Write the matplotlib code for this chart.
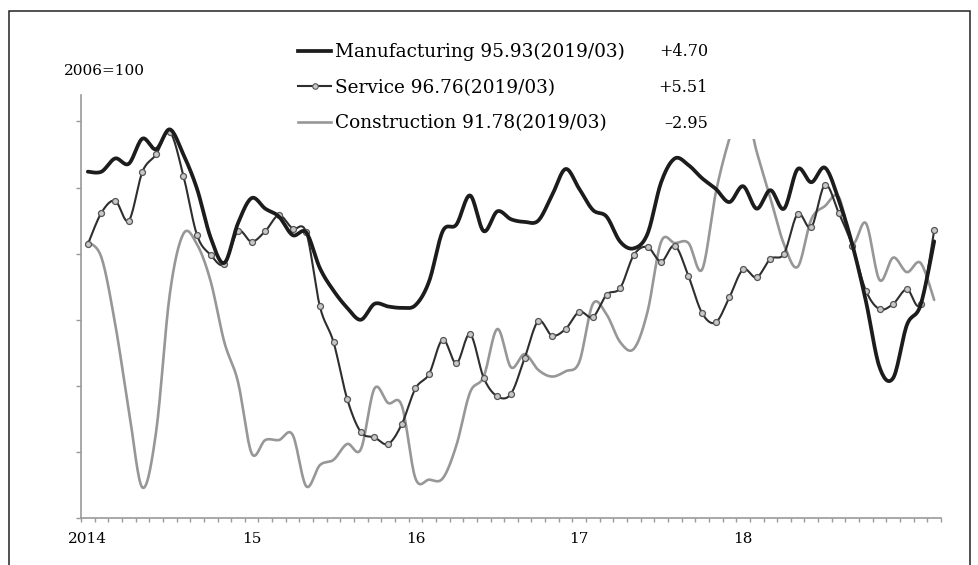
import numpy as np
import matplotlib.pyplot as plt
from matplotlib.lines import Line2D
from matplotlib.patches import Rectangle

# monthly, 2014/01 .. 2019/03 (2006=100)
year_labels = ["2014", "15", "16", "17", "18"]
year_start_idx = [0, 12, 24, 36, 48]

manufacturing = [101.2, 101.2, 102.2, 101.8, 103.7, 102.9, 104.4, 102.5, 99.9, 96.2,
                 94.3, 97.3, 99.2, 98.4, 97.8, 96.4, 96.6, 93.9, 92.2, 90.9,
                 90.0, 91.2, 91.0, 90.9, 91.1, 92.9, 96.7, 97.2, 99.4, 96.7,
                 98.2, 97.6, 97.4, 97.5, 99.4, 101.4, 99.9, 98.3, 97.8, 95.9,
                 95.4, 96.5, 100.4, 102.2, 101.7, 100.7, 99.9, 98.9, 100.1, 98.4,
                 99.8, 98.4, 101.4, 100.4, 101.5, 99.1, 95.7, 91.4, 86.4, 85.6,
                 89.6, 91.1, 95.93]
service = [95.7, 98.1, 99.0, 97.5, 101.2, 102.5, 104.2, 100.9, 96.4, 94.9,
           94.2, 96.7, 95.9, 96.7, 97.9, 96.9, 96.6, 91.0, 88.3, 84.0,
           81.5, 81.1, 80.6, 82.1, 84.8, 85.9, 88.5, 86.7, 88.9, 85.6,
           84.2, 84.4, 87.1, 89.9, 88.8, 89.3, 90.6, 90.2, 91.9, 92.4,
           94.9, 95.5, 94.4, 95.6, 93.3, 90.5, 89.8, 91.7, 93.8, 93.2,
           94.6, 95.0, 98.0, 97.0, 100.2, 98.1, 95.6, 92.2, 90.8, 91.2,
           92.3, 91.2, 96.76]
construction = [95.9, 94.7, 89.7, 83.2, 77.3, 81.5, 91.9, 96.5, 95.7, 92.9,
                88.3, 85.3, 79.9, 80.9, 80.9, 81.3, 77.4, 79.0, 79.4, 80.6,
                80.2, 84.8, 83.7, 83.5, 78.0, 77.9, 78.0, 80.5, 84.5, 85.7,
                89.3, 86.4, 87.4, 86.2, 85.7, 86.1, 86.8, 91.2, 90.4, 88.3,
                87.8, 90.6, 95.9, 95.8, 95.8, 93.8, 99.6, 103.7, 106.5, 102.7,
                99.2, 95.7, 94.0, 97.6, 98.6, 99.3, 95.8, 97.3, 93.0, 94.7,
                93.6, 94.3, 91.5]

legend_labels = ["Manufacturing 95.93(2019/03)",
                 "Service 96.76(2019/03)",
                 "Construction 91.78(2019/03)"]
legend_changes = ["+4.70", "+5.51", "\u20132.95"]


def smooth(x, y, n=16):
    # excel-like smoothed line: bezier with catmull-rom control points
    x = np.asarray(x, float)
    y = np.asarray(y, float)
    t = np.linspace(0, 1, n, endpoint=False)[:, None]
    pts = np.column_stack([x, y])
    out = []
    for i in range(len(pts) - 1):
        p0 = pts[i - 1] if i > 0 else pts[i]
        p1, p2 = pts[i], pts[i + 1]
        p3 = pts[i + 2] if i + 2 < len(pts) else pts[i + 1]
        c1 = p1 + (p2 - p0) / 6
        c2 = p2 - (p3 - p1) / 6
        seg = ((1 - t) ** 3) * p1 + 3 * ((1 - t) ** 2) * t * c1 + 3 * (1 - t) * t ** 2 * c2 + t ** 3 * p2
        out.append(seg)
    out.append(pts[-1:])
    out = np.vstack(out)
    return out[:, 0], out[:, 1]


plt.rcParams['font.family'] = ['DejaVu Serif']

fig = plt.figure(figsize=(9.79, 5.65), dpi=100)
ax = fig.add_axes([81 / 979, 1 - 518 / 565, (941 - 81) / 979, (518 - 95) / 565])

x = np.arange(len(service)) + 0.5

c_man, c_ser, c_con = "#1c1c1c", "#2e2e2e", "#979797"

sx, sy = smooth(x, construction)
ax.plot(sx, sy, color=c_con, lw=1.9, solid_capstyle='round', zorder=2)
sx, sy = smooth(x, service)
ax.plot(sx, sy, color=c_ser, lw=1.5, zorder=2.2)
ax.plot(x, service, ls='none', marker='o', ms=4.3, mfc="#c8c8c8", mec="#555555", mew=0.9, zorder=2.3)
sx, sy = smooth(x, manufacturing)
ax.plot(sx, sy, color=c_man, lw=2.7, solid_capstyle='round', zorder=2.4)

ax.set_xlim(0, len(service))
ax.set_ylim(75, 107.0)

for side in ["top", "right"]:
    ax.spines[side].set_visible(False)
for side in ["left", "bottom"]:
    ax.spines[side].set_color("#9a9a9a")
    ax.spines[side].set_linewidth(1.2)

ax.set_yticks([75, 80, 85, 90, 95, 100, 105])
ax.set_yticklabels([])
ax.tick_params(axis='y', direction='out', length=3.8, width=1, color="#9a9a9a")

ax.set_xticks(np.array(year_start_idx) + 0.5)
ax.set_xticklabels(year_labels, fontsize=11)
ax.set_xticks(np.arange(0, len(service) + 1), minor=True)
ax.tick_params(axis='x', which='major', length=0, pad=10)
ax.tick_params(axis='x', which='minor', direction='out', length=3, width=1, color="#9a9a9a")

fig.text(64 / 979, 1 - 71 / 565, "2006=100", fontsize=11, ha='left', va='center')

# white block behind the legend (covers the lines there)
ax.add_patch(Rectangle((290 / 979, 1 - 139 / 565), 470 / 979, 115 / 565, transform=fig.transFigure,
                       facecolor='white', edgecolor='none', zorder=4, clip_on=False))

handles = [Line2D([], [], color=c_man, lw=2.7),
           Line2D([], [], color=c_ser, lw=1.5, marker='o', ms=4, mfc="#c8c8c8", mec="#555555", mew=0.8),
           Line2D([], [], color=c_con, lw=1.9)]
leg = ax.legend(handles, legend_labels, loc='upper left', bbox_to_anchor=(298 / 979, 1 - 43 / 565),
                bbox_transform=fig.transFigure, frameon=False, fontsize=13.3,
                handlelength=1.8, handletextpad=0.2, labelspacing=0.95, borderpad=0, borderaxespad=0)
leg.set_zorder(6)

row_y = [52, 88, 123]
for txt, yy in zip(legend_changes, row_y):
    fig.text(708 / 979, 1 - yy / 565, txt, fontsize=11.5, ha='right', va='center', zorder=7)

# outer frame
fig.add_artist(Rectangle((9 / 979, -0.05), (970 - 9) / 979, 1.05 - 11 / 565, transform=fig.transFigure,
                         fill=False, edgecolor='#222222', lw=1.1))

fig.savefig("out.png", dpi=100)
